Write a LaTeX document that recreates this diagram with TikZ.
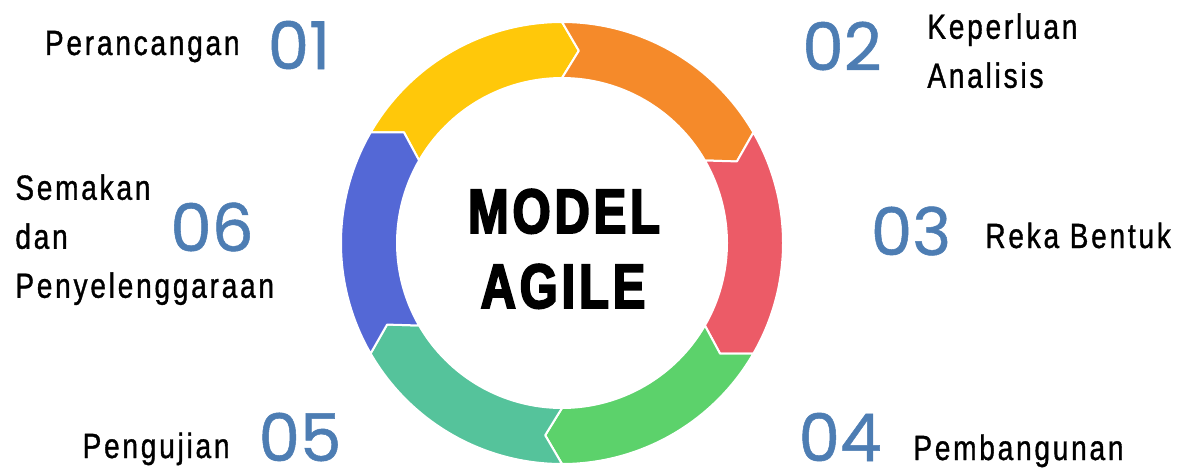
\documentclass[tikz,border=0pt]{standalone}
\usepackage{fontspec}
\usepackage{tikz}
\newfontfamily\phasefont[FakeStretch=0.8,LetterSpace=8,FakeBold=1]{Liberation Sans}
\newfontfamily\numfont[FakeBold=0.8]{Poppins}
\newfontfamily\agilefont[FakeStretch=0.78,LetterSpace=6,FakeBold=3]{Liberation Sans Bold}
\definecolor{cyellow}{HTML}{FFC80A}
\definecolor{corange}{HTML}{F58A2A}
\definecolor{cred}{HTML}{EC5B67}
\definecolor{cgreen}{HTML}{5CD26B}
\definecolor{cteal}{HTML}{55C39B}
\definecolor{cblue}{HTML}{5468D6}
\definecolor{numblue}{HTML}{4D7DB3}
\tikzset{
  phasetext/.style={font=\phasefont\fontsize{17.5}{24.5}\selectfont, inner sep=0pt, align=left},
  phasenum/.style={font=\numfont\fontsize{33}{33}\selectfont, text=numblue, inner sep=0pt},
  agiletext/.style={font=\agilefont\fontsize{31.4}{31.4}\selectfont, inner sep=0pt}
}

\begin{document}
\begin{tikzpicture}[x=0.5pt,y=0.5pt]
\useasboundingbox (0,0) rectangle (1188,472);
\coordinate (o) at (562,229);
\begin{scope}[shift={(o)}]
\foreach \a/\c in {150/cyellow, 90/corange, 30/cred, -30/cgreen, -90/cteal, -150/cblue}{
  \pgfmathsetmacro\b{\a-60}
  \fill[\c, draw=white, line width=1pt, line join=round]
    (\a:110.5pt) arc[start angle=\a, end angle=\b, radius=110.5pt]
    -- (\b-5:96.5pt) -- (\b:82.5pt)
    arc[start angle=\b, end angle=\a, radius=82.5pt]
    -- (\a-5:96.5pt) -- cycle;
}
\end{scope}
\node[agiletext, anchor=base] (model) at (564,239) {MODEL};
\node[agiletext, anchor=base] (agile) at (563,164) {AGILE};
\node[phasenum] (n1) at (299,427) {01};
\node[phasenum] (n2) at (842,426) {02};
\node[phasenum] (n3) at (911,241) {03};
\node[phasenum] (n4) at (840,35) {04};
\node[phasenum] (n5) at (300,35) {05};
\node[phasenum] (n6) at (212,245) {06};
\node[phasetext, anchor=base east] (t1) at (240,417) {Perancangan};
\node[phasetext, anchor=north west] (t2) at (927,459) {Keperluan\\Analisis};
\node[phasetext, anchor=base west] (t3) at (985,224) {Reka Bentuk};
\node[phasetext, anchor=base west] (t4) at (913,12) {Pembangunan};
\node[phasetext, anchor=base east] (t5) at (230,14) {Pengujian};
\node[phasetext, anchor=north west] (t6) at (15,298) {Semakan\\dan\\Penyelenggaraan};
\end{tikzpicture}
\end{document}
